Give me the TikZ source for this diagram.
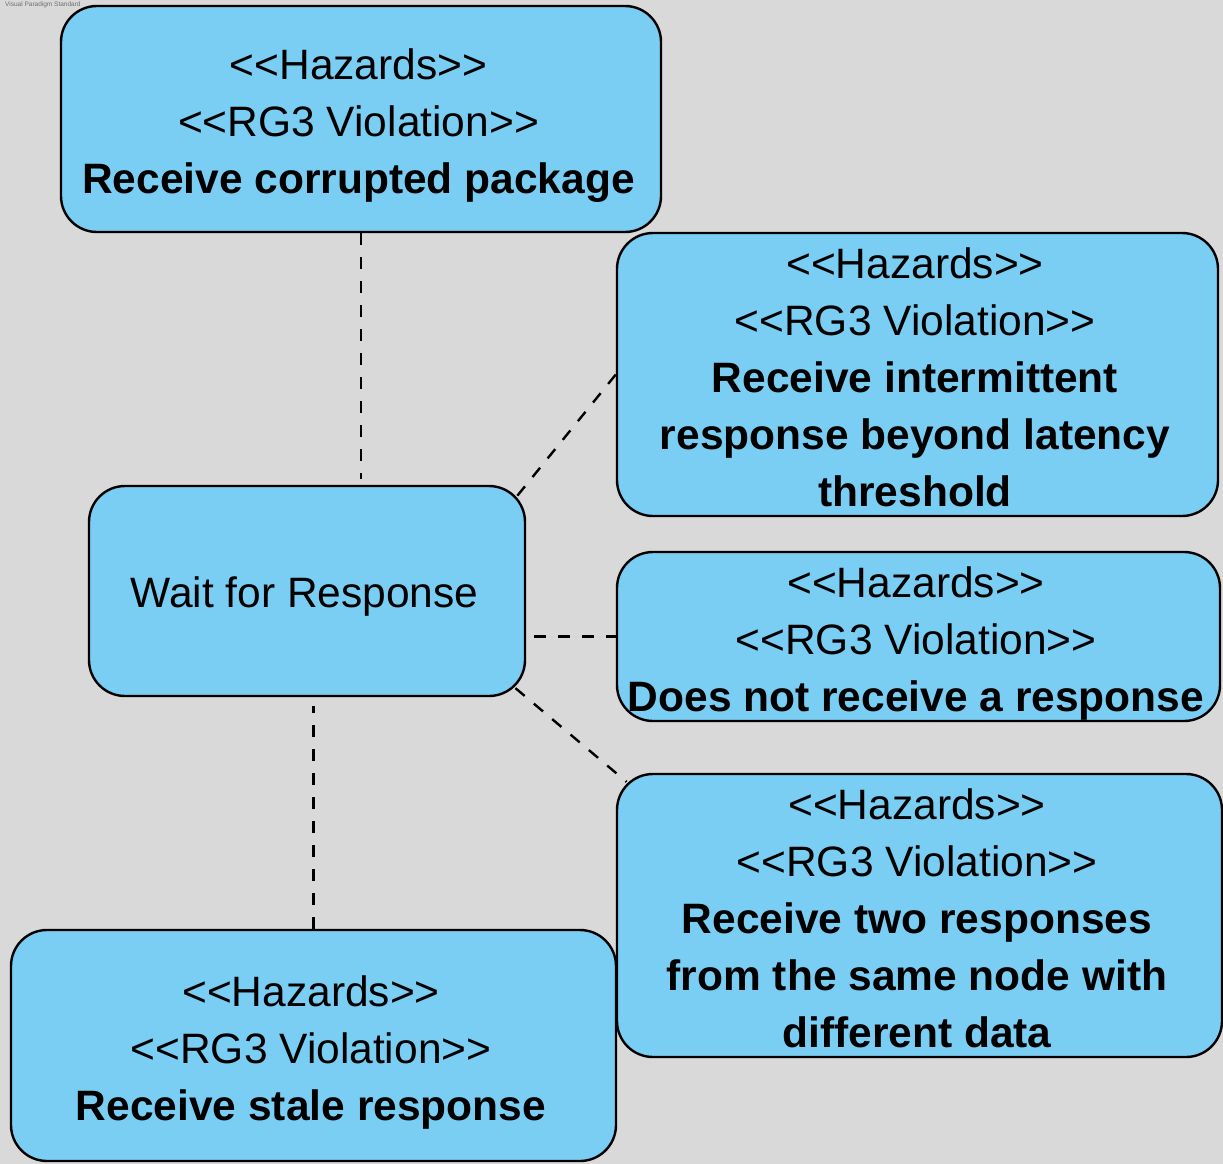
\documentclass[tikz,border=0pt]{standalone}
\usepackage{fontspec}
\setmainfont{Liberation Sans}
\usetikzlibrary{backgrounds}
\definecolor{canvas}{RGB}{217,217,217}
\definecolor{boxblue}{RGB}{122,206,244}
\definecolor{markgray}{RGB}{110,110,110}
\tikzset{
  x=1pt, y=-1pt,
  ucbox/.style={draw=black, line width=2.4pt, fill=boxblue, rounded corners=36pt},
  uctext/.style={inner sep=0pt, xshift=-2.5pt, font=\fontsize{42.5}{57}\selectfont, align=center},
  link/.style={draw=black, line width=2.4pt, dash pattern=on 12pt off 12pt},
}
\newcommand{\dlt}{\textless\kern0pt\textless}
\newcommand{\dgt}{\textgreater\kern0pt\textgreater}
\newcommand{\hz}{\dlt Hazards\dgt\\\dlt RG3 Violation\dgt\\\bfseries}
\begin{document}
\begin{tikzpicture}
  \begin{scope}[on background layer]
    \fill[canvas] (0,0) rectangle (1223,1164);
  \end{scope}
  \useasboundingbox (0,0) rectangle (1223,1164);

  \node[anchor=north west, inner sep=0pt, text=markgray, font=\fontsize{6.5}{7}\selectfont]
    (mark) at (5,1.5) {Visual Paradigm Standard};

  % use case: waiting state
  \node[ucbox, minimum width=436pt, minimum height=210pt] (wait) at (307,591) {};
  \node[uctext] (wait-t) at ([yshift=-6pt]wait.center) {Wait for Response};

  % hazards
  \node[ucbox, minimum width=600pt, minimum height=226pt] (top) at (361,119) {};
  \node[uctext] (top-t) at ([yshift=-7pt]top.center)
    {\hz Receive corrupted package};

  \node[ucbox, minimum width=601pt, minimum height=283pt] (rone) at (917.5,374.5) {};
  \node[uctext] (rone-t) at ([yshift=-3pt]rone.center)
    {\hz Receive intermittent\\\bfseries response beyond latency\\\bfseries threshold};

  \node[ucbox, minimum width=603pt, minimum height=169pt] (rtwo) at (918.5,636.5) {};
  \node[uctext] (rtwo-t) at ([yshift=-7pt]rtwo.center)
    {\hz Does not receive a response};

  \node[ucbox, minimum width=605pt, minimum height=283pt] (rthree) at (919.5,915.5) {};
  \node[uctext] (rthree-t) at ([yshift=-3pt]rthree.center)
    {\hz Receive two responses\\\bfseries from the same node with\\\bfseries different data};

  \node[ucbox, minimum width=605pt, minimum height=231pt] (bottom) at (313.5,1045.5) {};
  \node[uctext] (bottom-t) at ([yshift=-7pt]bottom.center)
    {\hz Receive stale response};

  % dashed associations, kept under the boxes
  \begin{scope}[on background layer]
    \draw[link, shorten >=6pt] (top.south) -- (top.south |- wait.north);
    \draw[link, shorten <=-14pt] (wait.north east) -- (rone.west);
    \draw[link, shorten <=8pt] (wait.east |- rtwo.west) -- (rtwo.west);
    \draw[link, shorten <=-14pt, shorten >=-14pt] (wait.south east) -- (rthree.north west);
    \draw[link, shorten >=9pt] (bottom.north) -- (bottom.north |- wait.south);
  \end{scope}
\end{tikzpicture}
\end{document}
